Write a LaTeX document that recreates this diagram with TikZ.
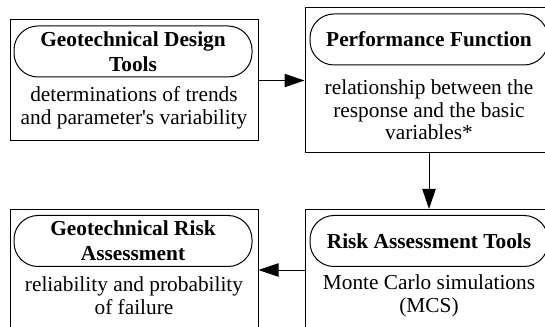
\documentclass[tikz,border=0pt]{standalone}
\usepackage{fontspec}
\setmainfont{Liberation Serif}
\newfontfamily\plainserif{Liberation Serif}
\usetikzlibrary{arrows.meta}
\tikzset{
  box/.style={draw, line width=0.75pt, minimum width=186pt, minimum height=90.75pt, inner sep=0pt},
  pill/.style={draw, line width=0.75pt, rounded corners=18pt, minimum width=178.5pt, minimum height=38.25pt,
    inner sep=0pt, align=center, font=\fontsize{16}{18.5}\selectfont\bfseries},
  body/.style={align=center, inner sep=0pt, font=\fontsize{16}{17}\selectfont\plainserif},
  flow/.style={-{Triangle[length=15pt,width=10pt]}, line width=0.75pt}
}
\begin{document}
\begin{tikzpicture}[x=0.75pt,y=0.75pt,yscale=-1,xscale=1]
%set diagram left start at 0, and has height of 327
\useasboundingbox (0,0) rectangle (545,327);
\clip (0,0) rectangle (545,327);

%Shape: Rectangle [design tools]
\node[box] (design) at (134,80.5) {};
\node[pill] (designT) at (133,51.5) {Geotechnical Design\\Tools};
% Text Node
\node[body] (designB) at (134,108) {determinations of trends\\and parameter's variability};

%Shape: Rectangle [performance function]
\node[box, minimum height=108.75pt] (perf) at (429,80.5) {};
\node[pill] (perfT) at (429,39.5) {Performance Function};
% Text Node
\node[body] (perfB) at (429,110) {relationship between the\\response and the basic\\variables*};

%Shape: Rectangle [risk tools]
\node[box] (tools) at (429,270) {};
\node[pill] (toolsT) at (429,241) {Risk Assessment Tools};
% Text Node
\node[body] (toolsB) at (429,296) {Monte Carlo simulations\\(MCS)};

%Shape: Rectangle [risk assessment]
\node[box] (assess) at (134,270) {};
\node[pill] (assessT) at (133,241) {Geotechnical Risk\\Assessment};
% Text Node
\node[body] (assessB) at (134,296) {reliability and probability\\of failure};

%Straight Lines
\draw[flow] (design) -- (perf);
\draw[flow] (perf) -- (tools);
\draw[flow] (tools) -- (assess);
\end{tikzpicture}
\end{document}
